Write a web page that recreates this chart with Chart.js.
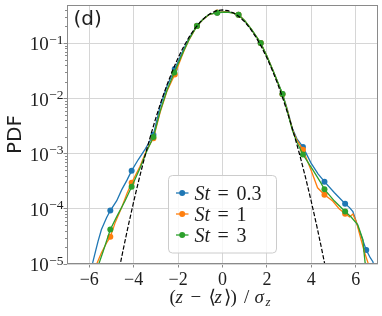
<!DOCTYPE html>
<html><head><meta charset="utf-8">
<script src="https://cdn.jsdelivr.net/npm/chart.js@4.4.1/dist/chart.umd.min.js"></script>
<style>html,body{margin:0;padding:0;background:#fff;}#wrap{width:382px;height:316px;}</style>
</head><body><div id="wrap"><canvas id="c" width="382" height="316"></canvas></div>
<script>
// ---- data ----
const seriesLabels = ['0.3', '1', '3'];
const seriesColors = ['#1f77b4', '#ff7f0e', '#2ca02c'];

const st03X = [-5.95,-5.84,-5.70,-5.60,-5.45,-5.22,-5.05,-4.76,-4.54,-4.30,-4.09,-3.79,-3.48,-3.30,-3.11,-2.81,-2.50,-2.15,-1.75,-1.50,-1.15,-0.90,-0.60,-0.24,0.10,0.40,0.72,1.00,1.30,1.72,2.00,2.30,2.70,2.90,3.15,3.35,3.62,3.98,4.30,4.59,5.04,5.52,5.72,5.87,6.09,6.30,6.47,6.65,6.77,6.85];
const st03Y = [8e-6,1.07e-5,1.8e-5,2.6e-5,4.2e-5,6.9e-5,9.3e-5,1.4e-4,2.2e-4,3.3e-4,4.9e-4,7.8e-4,1.2e-3,1.6e-3,2.2e-3,7.1e-3,1.66e-2,3.4e-2,7.7e-2,1.25e-1,2.06e-1,2.62e-1,3.3e-1,3.55e-1,3.7e-1,3.58e-1,3.27e-1,2.52e-1,1.76e-1,1.0e-1,5.8e-2,3.0e-2,1.2e-2,6.7e-3,2.8e-3,1.85e-3,1.32e-3,6.8e-4,4.3e-4,3.1e-4,1.95e-4,1.23e-4,1.05e-4,8.9e-5,4.8e-5,2.8e-5,1.8e-5,1.3e-5,1.1e-5,8e-6];
const st03Markers = [6,10,14,17,20,23,26,29,32,36,39,41,46];

const st1X = [-5.75,-5.64,-5.45,-5.22,-5.05,-4.84,-4.54,-4.30,-4.09,-3.71,-3.41,-3.11,-2.81,-2.50,-2.15,-1.75,-1.50,-1.15,-0.90,-0.60,-0.24,0.10,0.40,0.72,1.00,1.30,1.72,2.00,2.30,2.70,2.90,3.15,3.35,3.62,3.98,4.28,4.59,4.96,5.25,5.52,5.72,5.87,6.02,6.24,6.40,6.55,6.62];
const st1Y = [8e-6,1.05e-5,1.6e-5,2.4e-5,3.1e-5,5.5e-5,1.05e-4,1.9e-4,2.95e-4,5.9e-4,1.17e-3,1.9e-3,5.5e-3,1.35e-2,2.7e-2,7.0e-2,1.16e-1,2.04e-1,2.62e-1,3.3e-1,3.58e-1,3.7e-1,3.58e-1,3.27e-1,2.55e-1,1.78e-1,1.0e-1,5.8e-2,3.0e-2,1.18e-2,6.5e-3,2.7e-3,1.75e-3,1.17e-3,5.1e-4,2.4e-4,1.8e-4,1.38e-4,1.0e-4,8.1e-5,7.1e-5,8.0e-5,5.9e-5,2.75e-5,1.6e-5,1.05e-5,8e-6];
const st1Markers = [4,8,11,14,17,20,23,26,29,33,36,39];

const st3X = [-5.65,-5.55,-5.37,-5.05,-4.76,-4.39,-4.09,-3.71,-3.41,-3.11,-2.81,-2.50,-2.17,-1.75,-1.50,-1.15,-0.90,-0.60,-0.24,0.10,0.40,0.72,1.00,1.30,1.72,2.00,2.30,2.70,2.90,3.15,3.35,3.62,4.06,4.43,4.59,5.04,5.52,5.79,6.09,6.32,6.38,6.42,6.44];
const st3Y = [8e-6,1.05e-5,1.7e-5,4.2e-5,7.2e-5,1.38e-4,2.5e-4,5.5e-4,1.1e-3,2.0e-3,5.8e-3,1.4e-2,2.95e-2,7.2e-2,1.18e-1,2.05e-1,2.65e-1,3.32e-1,3.55e-1,3.66e-1,3.58e-1,3.28e-1,2.56e-1,1.8e-1,1.0e-1,5.8e-2,3.0e-2,1.2e-2,6.2e-3,2.6e-3,1.6e-3,9.6e-4,5.1e-4,2.95e-4,2.25e-4,1.38e-4,8.9e-5,7.1e-5,5.1e-5,2.75e-5,1.5e-5,1.05e-5,8e-6];
const st3Markers = [3,6,9,12,15,18,21,24,27,31,34,36];

const gaussX = [-4.75,-4.5,-4.25,-4,-3.75,-3.5,-3.25,-3,-2.75,-2.5,-2.25,-2,-1.75,-1.5,-1.25,-1,-0.75,-0.5,-0.25,0,0.25,0.5,0.75,1,1.25,1.5,1.75,2,2.25,2.5,2.75,3,3.25,3.5,3.75,4,4.25,4.5,4.75];
const gaussY = [5.03e-6,1.598e-5,4.772e-5,1.338e-4,3.526e-4,8.727e-4,2.029e-3,4.432e-3,9.094e-3,1.753e-2,3.174e-2,5.399e-2,8.628e-2,0.12952,0.18265,0.24197,0.30114,0.35207,0.38667,0.39894,0.38667,0.35207,0.30114,0.24197,0.18265,0.12952,8.628e-2,5.399e-2,3.174e-2,1.753e-2,9.094e-3,4.432e-3,2.029e-3,8.727e-4,3.526e-4,1.338e-4,4.772e-5,1.598e-5,5.03e-6];

const xTicks = [-6, -4, -2, 0, 2, 4, 6];
const yTickExps = [-5, -4, -3, -2, -1];
const xMin = -7, xMax = 7, yMin = 1e-5, yMax = 0.49;

// ---- build ----
const pts = (xs, ys) => xs.map((x, i) => ({x: x, y: ys[i]}));
const SERIF = '"Liberation Serif", "DejaVu Serif", serif';
const SANS = '"DejaVu Sans", sans-serif';
const TXT = '#1e1e1e';
const SPINE = '#8a8a8a';

function seriesDS(label, color, xs, ys, marks, order) {
  return {
    label: label, data: pts(xs, ys), borderColor: color, backgroundColor: color,
    borderWidth: 1.3, tension: 0, clip: 0, order: order,
    pointRadius: ctx => marks.includes(ctx.dataIndex) ? 3 : 0,
    pointHoverRadius: 0, pointBorderWidth: 0, pointBackgroundColor: color
  };
}

const datasets = [
  seriesDS(seriesLabels[0], seriesColors[0], st03X, st03Y, st03Markers, 3),
  seriesDS(seriesLabels[1], seriesColors[1], st1X, st1Y, st1Markers, 2),
  seriesDS(seriesLabels[2], seriesColors[2], st3X, st3Y, st3Markers, 1),
  { label: 'gauss', data: pts(gaussX, gaussY), borderColor: '#000', borderWidth: 1.2,
    borderDash: [4.4, 1.9], pointRadius: 0, tension: 0, clip: 0, order: 0 }
];

function fmtX(v) { return v < 0 ? '\u2212' + (-v) : String(v); }

const deco = {
  id: 'deco',
  afterDatasetsDraw(chart) {
    const ctx = chart.ctx, ca = chart.chartArea;
    ctx.save();
    ctx.strokeStyle = SPINE; ctx.lineWidth = 1;
    ctx.strokeRect(ca.left + 0.5, ca.top + 0.5, ca.right - ca.left - 1, ca.bottom - ca.top - 1);
    ctx.restore();
  },
  afterDraw(chart) {
    const ctx = chart.ctx, ca = chart.chartArea, ys = chart.scales.y;
    ctx.save();
    // minor y ticks
    ctx.strokeStyle = SPINE; ctx.lineWidth = 1;
    for (let e = -5; e <= -1; e++) {
      for (let k = 2; k <= 9; k++) {
        const v = k * Math.pow(10, e);
        if (v > yMax) continue;
        const py = Math.round(ys.getPixelForValue(v)) + 0.5;
        ctx.beginPath(); ctx.moveTo(ca.left, py); ctx.lineTo(ca.left - 2, py); ctx.stroke();
      }
    }
    // y tick labels 10^e
    ctx.fillStyle = TXT; ctx.textBaseline = 'alphabetic';
    yTickExps.forEach(e => {
      const py = ys.getPixelForValue(Math.pow(10, e));
      const sup = '\u2212' + (-e);
      ctx.font = '13.5px ' + SERIF;
      const w = ctx.measureText(sup).width;
      const right = ca.left - 3.5;
      ctx.textAlign = 'left';
      ctx.fillText(sup, right - w, py + 0.7);
      ctx.font = '19px ' + SERIF;
      ctx.textAlign = 'right';
      ctx.fillText('10', right - w - 0.5, py + 7.3);
    });
    // PDF label
    ctx.save();
    ctx.translate(20.5, 134.5); ctx.rotate(-Math.PI / 2);
    ctx.font = '20px ' + SANS; ctx.textAlign = 'center'; ctx.textBaseline = 'alphabetic';
    ctx.fillText('PDF', 0, 0);
    ctx.restore();
    // panel label
    ctx.font = '20px ' + SANS; ctx.textAlign = 'left';
    ctx.fillText('(d)', 73.5, 25);
    // x axis title
    const segs = [
      ['(', 169.5, 0, false], ['z', 175.5, 0, true], ['\u2212', 190.5, 0, false],
      ['\u27e8', 208.5, 0, false], ['z', 214.5, 0, true], ['\u27e9', 224, 0, false],
      [')', 230.5, 0, false], ['/', 244, 0, false], ['\u03c3', 254.5, 0, true]
    ];
    segs.forEach(s => {
      ctx.font = (s[3] ? 'italic ' : '') + '19px ' + SERIF;
      ctx.fillText(s[0], s[1], 302.5 + s[2]);
    });
    ctx.font = 'italic 13px ' + SERIF;
    ctx.fillText('z', 265.5, 306);
    // legend
    const bx = 168.5, by = 175.5, bw = 108, bh = 77.5;
    ctx.fillStyle = 'rgba(255,255,255,0.8)';
    ctx.strokeStyle = '#cccccc'; ctx.lineWidth = 1;
    ctx.beginPath(); ctx.roundRect(bx, by, bw, bh, 4); ctx.fill(); ctx.stroke();
    const rows = [193, 214, 235];
    seriesLabels.forEach((lab, i) => {
      const cy = rows[i];
      ctx.strokeStyle = seriesColors[i]; ctx.lineWidth = 1.3;
      ctx.beginPath(); ctx.moveTo(176, cy); ctx.lineTo(188.5, cy); ctx.stroke();
      ctx.fillStyle = seriesColors[i];
      ctx.beginPath(); ctx.arc(182.2, cy, 3, 0, Math.PI * 2); ctx.fill();
      ctx.fillStyle = TXT; ctx.textAlign = 'left';
      ctx.font = 'italic 20px ' + SERIF;
      ctx.fillText('St', 194.5, cy + 7);
      ctx.font = '20px ' + SERIF;
      ctx.fillText('=', 217.5, cy + 7);
      ctx.fillText(lab, 236.5, cy + 7);
    });
    ctx.restore();
  }
};

new Chart(document.getElementById('c'), {
  type: 'line',
  data: { datasets: datasets },
  plugins: [deco],
  options: {
    responsive: false, animation: false, devicePixelRatio: 1,
    layout: { padding: { left: 0, right: 4, top: 5, bottom: 0 } },
    plugins: { legend: { display: false }, tooltip: { enabled: false }, title: { display: false } },
    scales: {
      x: {
        type: 'linear', min: xMin, max: xMax,
        afterBuildTicks: s => { s.ticks = xTicks.map(v => ({ value: v })); },
        afterFit: s => { s.height = 52; },
        grid: { color: '#d6d6d6', lineWidth: 1, drawTicks: true, tickLength: 3.5, tickColor: SPINE },
        border: { display: false },
        ticks: { autoSkip: false, maxRotation: 0, padding: 2, color: TXT,
                 font: { family: SERIF, size: 18 }, callback: v => fmtX(v) }
      },
      y: {
        type: 'logarithmic', min: yMin, max: yMax,
        afterBuildTicks: s => { s.ticks = yTickExps.map(e => ({ value: Math.pow(10, e) })); },
        afterFit: s => { s.width = 67; },
        grid: { color: '#d6d6d6', lineWidth: 1, drawTicks: true, tickLength: 3.5, tickColor: SPINE },
        border: { display: false },
        ticks: { display: false }
      }
    }
  }
});
</script></body></html>
